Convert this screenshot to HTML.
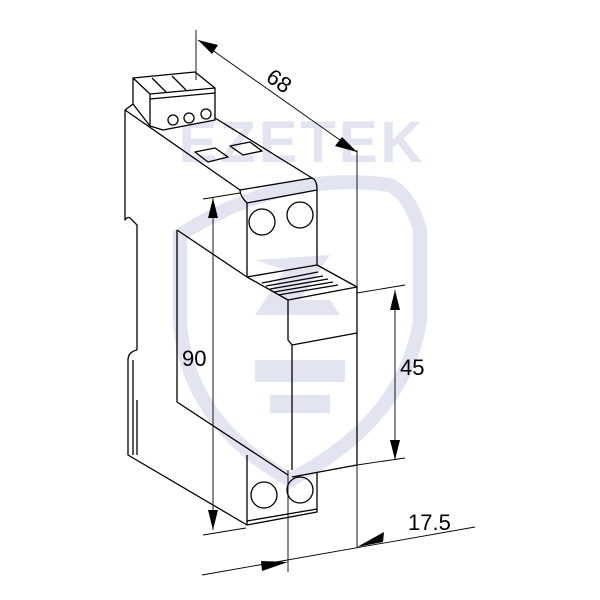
<!DOCTYPE html>
<html><head><meta charset="utf-8"><style>
html,body{margin:0;padding:0;background:#fff;}
svg{display:block;}
text{font-family:"Liberation Sans",Arial,sans-serif;}
</style></head><body>
<svg width="600" height="600" viewBox="0 0 600 600" xmlns="http://www.w3.org/2000/svg">
<!-- watermark -->
<g fill="#e3e4f1" stroke="none">
<text x="302" y="162" font-size="58" font-weight="bold" text-anchor="middle" fill="#e3e4f1" letter-spacing="3">EZETEK</text>
<path d="M180 235 Q280 170 390 185 Q410 195 420 230 L420 320 Q405 420 290 480 Q185 420 180 320 Z" fill="none" stroke="#e3e4f1" stroke-width="14"/>
<path d="M255 260 L330 255 L300 300 L330 300 L340 315 L255 315 L285 270 Z" />
<rect x="255" y="360" width="90" height="22"/>
<rect x="270" y="395" width="60" height="18"/>
</g>
<g fill="none" stroke="#000" stroke-width="1.3" stroke-linejoin="round">
<!-- terminal block -->
<path d="M133 78 L195 72 L215 88 L215 120 L163 130 L150 126 L133 104 Z" fill="#fff"/>
<path d="M133 78 L150 94 L215 88 M150 94 L150 126"/>
<path d="M150 99 L215 93"/>
<path d="M152 78 L166 92 M172 76 L186 90"/>
<circle cx="173" cy="120" r="5"/><circle cx="189" cy="118" r="5"/><circle cx="206" cy="114" r="5"/>
<!-- main body outline -->
<path d="M215 118 L312 178"/>
<path d="M125 110 L240 190"/>
<path d="M125 110 L125 220 Q128 215 132 220 L137 225 L137 350"/>
<path d="M137 350 Q128 352 128 360 L128 455 L247 525"/>
<path d="M133 360 L133 455 M137 400 L137 455"/>
<path d="M125 110 L133 104"/>
<!-- windows -->
<path d="M195 152 L215 148 L228 157 L208 162 Z"/>
<path d="M230 146 L250 142 L262 151 L243 155 Z"/>
<!-- upper module -->
<path d="M240 190 L312 178 Q317 180 317 190 L317 265 L247 277 L247 203 Q240 196 240 190 Z"/>
<path d="M247 203 L317 190"/>
<circle cx="262" cy="222" r="13"/><circle cx="300" cy="215" r="13"/>
<!-- vent -->
<path d="M247 277 L288 300 L357 287 L317 265"/>
<path d="M262 283 L318 272 M266 286 L323 276 M270 289 L328 279 M274 292 L333 282 M278 295 L338 285"/>
<!-- lower module -->
<path d="M288 300 L288 340 L292 345 L357 333 L357 287"/>
<path d="M292 345 L292 470 M357 333 L357 465 L292 477"/>
<!-- inner panel -->
<path d="M177 230 L177 402 L288 475"/>
<path d="M177 230 L247 277"/>
<!-- bottom module -->
<path d="M247 455 L247 525 L317 512 L317 472"/>
<path d="M247 521 L317 509"/>
<circle cx="264" cy="495" r="13"/><circle cx="300" cy="490" r="13"/>
</g>
<!-- dimensions -->
<g stroke="#000" stroke-width="0.9" fill="none">
<path d="M196 30 L196 80"/>
<path d="M198 40 L357 152"/>
<path d="M357 150 L357 548"/>
<path d="M203 199 L240 193"/>
<path d="M213 198 L213 530"/>
<path d="M203 535 L246 528"/>
<path d="M357 293 L405 285 M357 465 L405 458"/>
<path d="M395 290 L395 460"/>
<path d="M288 470 L288 572"/>
<path d="M202 575 L475 527"/>
</g>
<g fill="#000" stroke="none">
<polygon points="198,40 218,45 212,54"/>
<polygon points="357,152 335,146 342,137"/>
<polygon points="213,198 208,218 218,218"/>
<polygon points="213,530 208,510 218,510"/>
<polygon points="395,290 390,310 400,310"/>
<polygon points="395,460 390,440 400,440"/>
<polygon points="288,562 262,571 261,561"/>
<polygon points="357,547 383,542 384,532"/>
</g>
<g fill="#000" font-size="22">
<text x="268" y="90" transform="rotate(35 282 80)">68</text>
<text x="182" y="366">90</text>
<text x="400" y="375">45</text>
<text x="408" y="530">17.5</text>
</g>
</svg>
</body></html>
